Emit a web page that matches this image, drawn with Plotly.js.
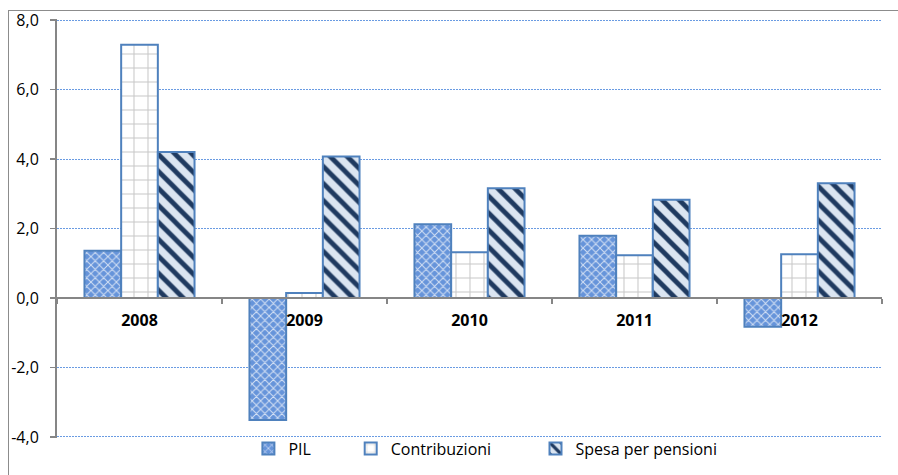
<!DOCTYPE html>
<html>
<head>
<meta charset="utf-8">
<script src="https://cdn.plot.ly/plotly-3.0.1.min.js"></script>
<style>
  html, body { margin: 0; padding: 0; background: #fff; }
  #wrap { position: relative; width: 898px; height: 475px; }
  #chart { width: 898px; height: 475px; }
  #frame { position: absolute; left: 8px; top: 10px; right: -4px; bottom: -4px;
           border-left: 1.5px solid #8c8c8c; border-top: 1.5px solid #8c8c8c; pointer-events: none; }
</style>
</head>
<body>
<div id="wrap">
  <div id="chart"></div>
  <div id="frame"></div>
</div>
<script>
const categories = ['2008', '2009', '2010', '2011', '2012'];
const pil = [1.36, -3.51, 2.12, 1.79, -0.83];
const contribuzioni = [7.29, 0.14, 1.32, 1.23, 1.26];
const spesaPensioni = [4.20, 4.07, 3.16, 2.83, 3.30];
const seriesNames = ['PIL', 'Contribuzioni', 'Spesa per pensioni'];
const yTickValues = [-4, -2, 0, 2, 4, 6, 8];
const yTickLabels = ['-4,0', '-2,0', '0,0', '2,0', '4,0', '6,0', '8,0'];

const FONT = 'Open Sans, Noto Sans, sans-serif';
const outline = { color: '#4f81bd', width: 2 };

const traces = [
  {
    type: 'bar', name: seriesNames[0], x: categories, y: pil, legend: 'legend',
    marker: { color: '#6a96d8', line: outline,
      pattern: { shape: 'x', bgcolor: '#6694da', fgcolor: '#d3e0f4', size: 6, solidity: 0.3 } }
  },
  {
    type: 'bar', name: seriesNames[1], x: categories, y: contribuzioni, legend: 'legend2',
    marker: { color: '#ffffff', line: outline,
      pattern: { shape: '+', bgcolor: '#ffffff', fgcolor: '#c8c8c8', size: 14, solidity: 0.14 } }
  },
  {
    type: 'bar', name: seriesNames[2], x: categories, y: spesaPensioni, legend: 'legend3',
    marker: { color: '#dbe5f1', line: outline,
      pattern: { shape: '\\', bgcolor: '#dbe5f1', fgcolor: '#1f3a60', size: 12, solidity: 0.4 } }
  }
];

const legendBase = {
  orientation: 'h', xanchor: 'left', y: -0.025, yanchor: 'middle',
  font: { family: FONT, size: 16, color: '#000' },
  bgcolor: 'rgba(0,0,0,0)'
};

const layout = {
  width: 898, height: 475,
  margin: { l: 57, r: 16, t: 19, b: 37, autoexpand: false },
  paper_bgcolor: '#ffffff', plot_bgcolor: '#ffffff',
  barmode: 'group',
  bargap: 0.333, bargroupgap: 0,
  font: { family: FONT, size: 16, color: '#000000' },
  showlegend: true,
  legend: Object.assign({}, legendBase, { x: 0.232 }),
  legend2: Object.assign({}, legendBase, { x: 0.356 }),
  legend3: Object.assign({}, legendBase, { x: 0.580 }),
  xaxis: {
    type: 'category',
    anchor: 'free', position: 4.03 / 12.06,
    showline: true, linecolor: '#868686', linewidth: 2,
    ticks: 'outside', tickson: 'boundaries', ticklen: 5, tickcolor: '#868686', tickwidth: 1.5,
    showgrid: false, zeroline: false,
    tickfont: { family: FONT, size: 16, color: '#000', weight: 'bold' },
    ticklabelstandoff: 8,
    automargin: false,
    fixedrange: true
  },
  yaxis: {
    range: [-4.03, 8.03],
    tickmode: 'array', tickvals: yTickValues, ticktext: yTickLabels,
    showline: true, linecolor: '#868686', linewidth: 2,
    ticks: 'outside', ticklen: 5, tickcolor: '#868686', tickwidth: 1.5,
    showgrid: true, gridcolor: '#6a9be2', gridwidth: 1, griddash: '2px,1px',
    zeroline: false,
    tickfont: { family: FONT, size: 16, color: '#000' },
    ticklabelstandoff: 8,
    automargin: false,
    fixedrange: true
  }
};

Plotly.newPlot('chart', traces, layout, { displayModeBar: false, staticPlot: true });
</script>
</body>
</html>
